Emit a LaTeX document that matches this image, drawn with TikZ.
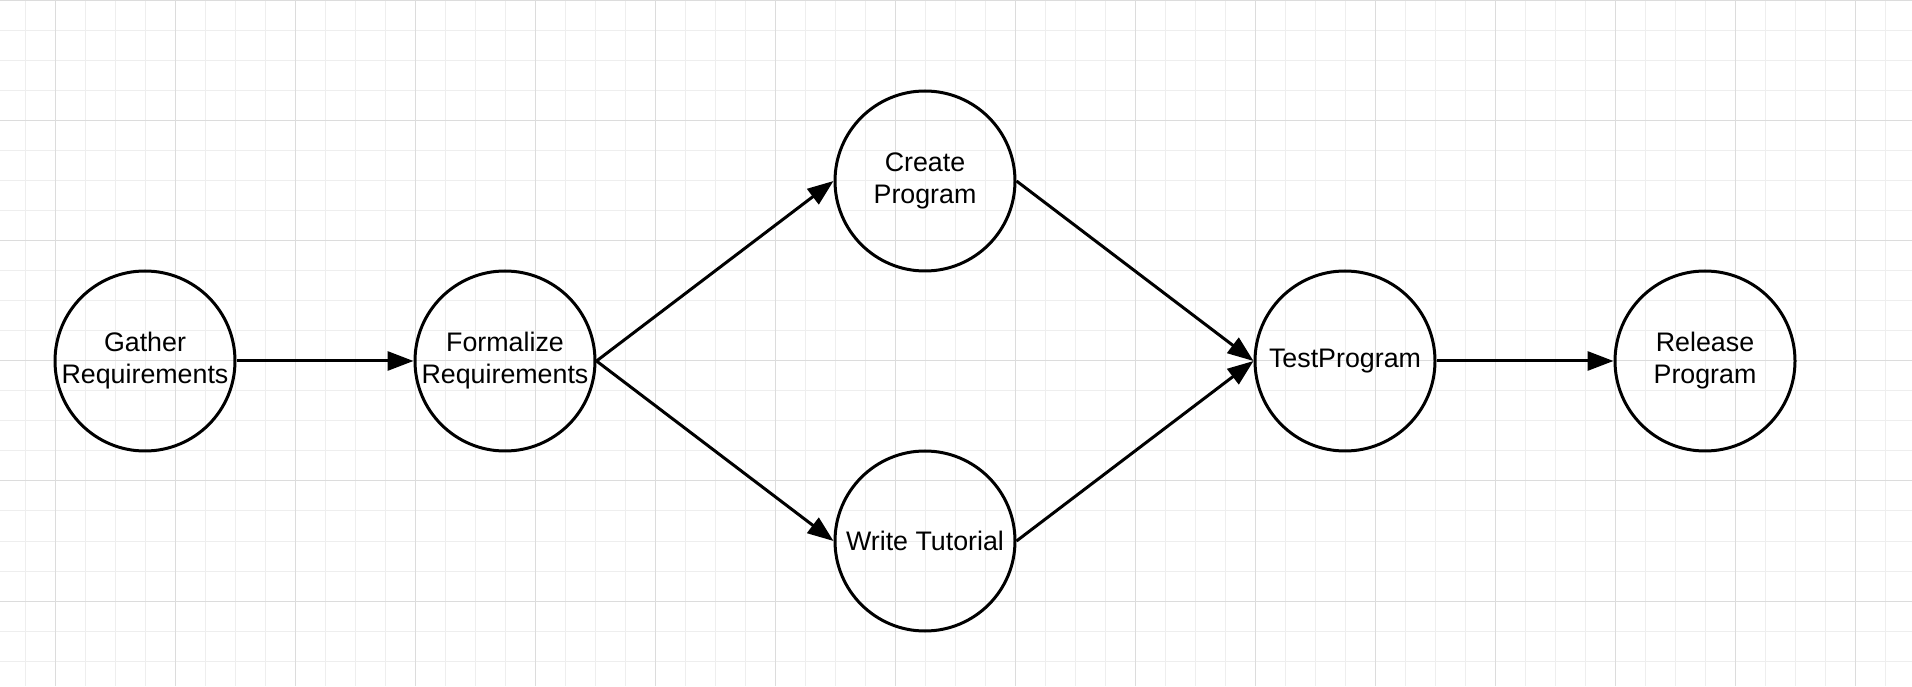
\documentclass[tikz,border=0pt]{standalone}
\usepackage{fontspec}
\setmainfont{Liberation Sans}
\usetikzlibrary{arrows.meta}
\definecolor{minorgrid}{HTML}{EEEEEE}
\definecolor{majorgrid}{HTML}{DCDCDC}

\begin{document}
\begin{tikzpicture}[x=0.5pt,y=0.5pt,line width=1.5pt]
\tikzstyle{task}=[draw,circle,minimum size=90pt,inner sep=0,align=center,font=\fontsize{13.4}{16}\selectfont]
\tikzstyle{flow}=[-{Triangle[length=13pt,width=9.5pt]}]
\fill[white] (0,0) rectangle (1912,686);
\useasboundingbox (0,0) rectangle (1912,686);
% background grid
\begin{scope}[line width=0.5pt]
\foreach \x in {25,55,...,1885}{
\draw[minorgrid] (\x,0) -- (\x,686);
};
\foreach \y in {25,55,...,685}{
\draw[minorgrid] (0,\y) -- (1912,\y);
};
\foreach \x in {55,175,...,1855}{
\draw[majorgrid] (\x,0) -- (\x,686);
};
\foreach \y in {85,205,...,685}{
\draw[majorgrid] (0,\y) -- (1912,\y);
};
\end{scope}
% tasks
\node[task] (gather) at (145,325) {Gather\\Requirements};
\node[task] (formalize) at (505,325) {Formalize\\Requirements};
\node[task] (create) at (925,505) {Create\\Program};
\node[task] (tutorial) at (925,145) {Write Tutorial};
\node[task] (test) at (1345,325) {TestProgram};
\node[task] (release) at (1705,325) {Release\\Program};
% flow
\draw[flow] (gather.east) -- (formalize.west);
\foreach \x/\y in {formalize/create,formalize/tutorial,create/test,tutorial/test,test/release}{
\draw[flow] (\x.east) -- (\y.west);
}
\end{tikzpicture}
\end{document}
